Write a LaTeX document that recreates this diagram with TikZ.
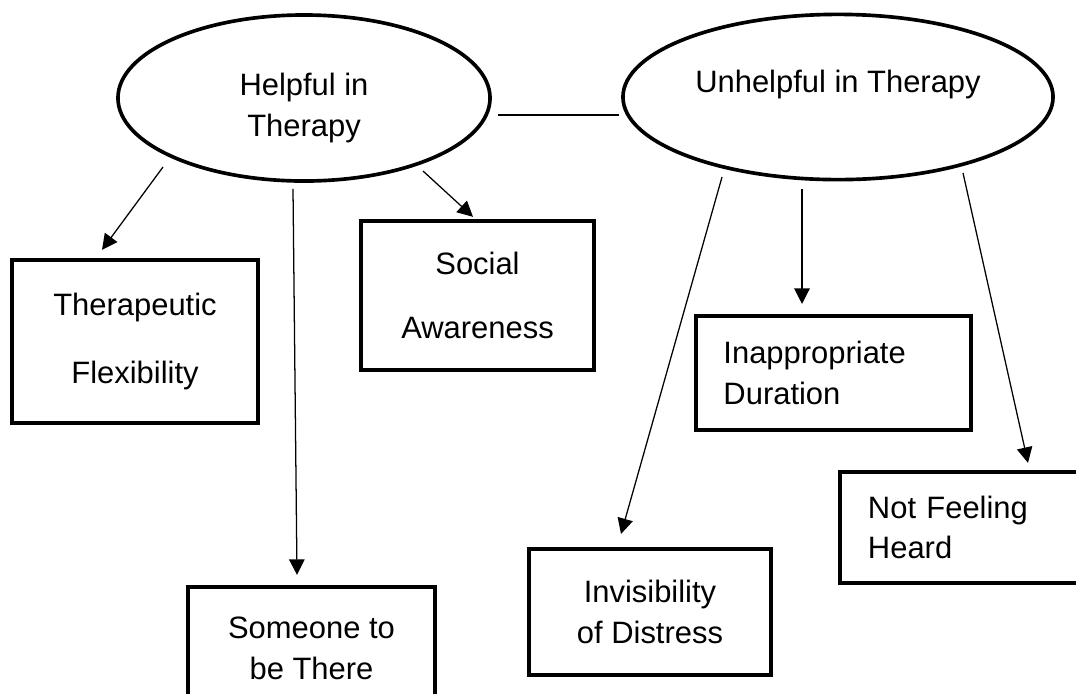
\documentclass[tikz,border=0pt]{standalone}
\usepackage{fontspec}
\setmainfont{Liberation Sans}
\usetikzlibrary{arrows.meta,calc,shapes.geometric}

\begin{document}
\begin{tikzpicture}[
    x=0.025cm,y=-0.025cm,
    every node/.style={font={\fontsize{22}{29}\selectfont}},
    oval/.style={draw,ellipse,line width=2.6pt,inner sep=0pt,align=center},
    box/.style={draw,rectangle,line width=2.9pt,inner sep=0pt,align=center},
    link/.style={-{Triangle[length=11pt,width=11pt]},line width=0.9pt}
]
\clip (0,0) rectangle (1076,693);

% Two themes
\node[oval,minimum width=9.3cm,minimum height=4.15cm,text height=59pt] (help) at (304,98) {Helpful in\\Therapy};
\node[oval,minimum width=10.75cm,minimum height=4.13cm,text depth=22pt] (unhelp) at (838,97) {Unhelpful in Therapy};

% Subthemes
\node[box,minimum width=6.15cm,minimum height=4.08cm] (flex)   at (135,341.5) {Therapeutic\\[19pt]Flexibility};
\node[box,minimum width=5.83cm,minimum height=3.73cm] (social) at (477.5,295.5) {Social\\[16pt]Awareness};
\node[box,minimum width=6.18cm,minimum height=3.08cm] (there)  at (311.5,648.5) {Someone to\\be There};
\node[box,minimum width=6.88cm,minimum height=2.85cm,text width=5.5cm,align=left] (duration) at (833.5,373) {Inappropriate\\Duration};
\node[box,minimum width=6.25cm,minimum height=2.78cm,text width=4.85cm,align=left] (heard) at (965,527.5) {Not Feeling\\Heard};
\node[box,minimum width=6.05cm,minimum height=3.15cm] (distress) at (650,612) {Invisibility\\of Distress};

% Link between themes
\draw[line width=0.9pt] ($(help.east)+(6,17)$) -- ($(unhelp.west)+(-2,18)$);

% Helpful
\draw[link] ($(help.center)+(-141,69)$) -- ($(flex.north)+(-33,-8)$);
\draw[link] ($(help.south)+(-11,6)$)    -- ($(there.north)+(-14.5,-10)$);
\draw[link] ($(help.center)+(119,73)$)  -- ($(social.north)+(-4.5,-2)$);

% Unhelpful
\draw[link] ($(unhelp.center)+(-116,80)$) -- ($(distress.north)+(-29,-13)$);
\draw[link] ($(unhelp.south)+(-36,7.5)$)  -- ($(duration.north)+(-31.5,-10)$);
\draw[link] ($(unhelp.center)+(125,76)$)  -- ($(heard.north)+(63,-7)$);
\end{tikzpicture}
\end{document}
